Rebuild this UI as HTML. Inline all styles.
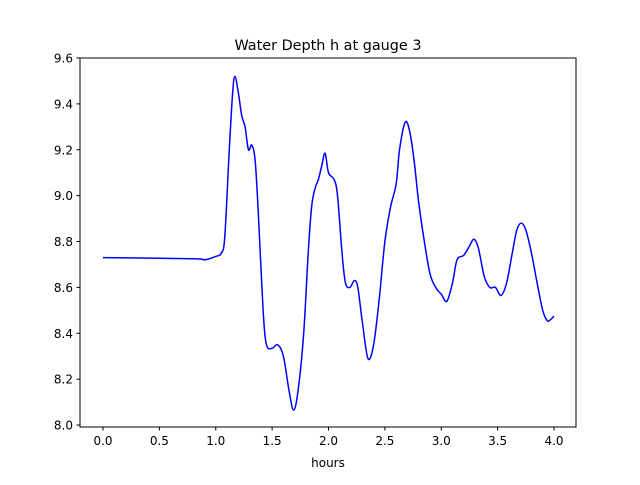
<!DOCTYPE html>
<html><head><meta charset="utf-8"><style>
body{margin:0;background:#fff}
svg text{font-family:"DejaVu Sans","Liberation Sans",sans-serif;}
</style></head><body>
<svg id="chart" width="640" height="480" xmlns="http://www.w3.org/2000/svg">
<rect width="640" height="480" fill="#fff"/>
<text x="328" y="50" font-size="14.4" text-anchor="middle">Water Depth h at gauge 3</text>
<g id="xticks"></g>
<g id="yticks"></g>
<path id="line" fill="none" stroke="#0000ff" stroke-width="1.5"/>
<rect x="80" y="58" width="496" height="369" fill="none" stroke="#000" stroke-width="1"/>
<text x="328" y="467" font-size="12" text-anchor="middle">hours</text>
</svg>
<script>
const hours=[0,0.8,0.9,1.0,1.05,1.08,1.12,1.15,1.17,1.2,1.23,1.26,1.29,1.32,1.35,1.38,1.42,1.45,1.5,1.55,1.6,1.65,1.69,1.73,1.78,1.82,1.85,1.88,1.91,1.94,1.97,2.0,2.05,2.08,2.12,2.15,2.19,2.23,2.26,2.3,2.35,2.4,2.45,2.5,2.55,2.6,2.63,2.68,2.72,2.76,2.8,2.85,2.9,2.95,3.0,3.05,3.1,3.14,3.2,3.25,3.29,3.33,3.38,3.43,3.48,3.53,3.58,3.63,3.67,3.71,3.75,3.8,3.85,3.9,3.94,3.97,4.0];
const depth=[8.73,8.725,8.72,8.735,8.75,8.82,9.2,9.45,9.52,9.45,9.35,9.3,9.2,9.22,9.15,8.9,8.5,8.35,8.335,8.35,8.3,8.15,8.065,8.15,8.4,8.75,8.95,9.03,9.07,9.13,9.185,9.1,9.07,9.0,8.75,8.62,8.6,8.63,8.6,8.45,8.29,8.35,8.55,8.8,8.95,9.05,9.2,9.32,9.28,9.15,8.97,8.8,8.66,8.6,8.57,8.54,8.62,8.72,8.74,8.78,8.81,8.77,8.65,8.6,8.6,8.565,8.62,8.75,8.85,8.88,8.85,8.75,8.62,8.5,8.455,8.46,8.475];
const xTicks=[0,0.5,1,1.5,2,2.5,3,3.5,4];
const xTickLabels=["0.0","0.5","1.0","1.5","2.0","2.5","3.0","3.5","4.0"];
const yTicks=[8.0,8.2,8.4,8.6,8.8,9.0,9.2,9.4,9.6];
const yTickLabels=["8.0","8.2","8.4","8.6","8.8","9.0","9.2","9.4","9.6"];
const NS="http://www.w3.org/2000/svg";
const xs=v=>103+v*112.75, ys=v=>58+(9.6-v)*229.4;
const xg=document.getElementById('xticks'), yg=document.getElementById('yticks');
xTicks.forEach((t,i)=>{
 const l=document.createElementNS(NS,'line');
 l.setAttribute('x1',xs(t));l.setAttribute('x2',xs(t));l.setAttribute('y1',427);l.setAttribute('y2',430.5);l.setAttribute('stroke','#000');
 
 
 xg.appendChild(l);
 const tx=document.createElementNS(NS,'text');
 tx.setAttribute('x',xs(t));tx.setAttribute('y',445);tx.setAttribute('font-size','12');tx.setAttribute('text-anchor','middle');
 tx.textContent=xTickLabels[i];
 
 
 xg.appendChild(tx);
});
yTicks.forEach((t,i)=>{
 const l=document.createElementNS(NS,'line');
 l.setAttribute('x1',76.5);l.setAttribute('x2',80);l.setAttribute('y1',ys(t));l.setAttribute('y2',ys(t));l.setAttribute('stroke','#000');
 
 
 yg.appendChild(l);
 const tx=document.createElementNS(NS,'text');
 tx.setAttribute('x',73);tx.setAttribute('y',ys(t)+4.5);tx.setAttribute('font-size','12');tx.setAttribute('text-anchor','end');
 tx.textContent=yTickLabels[i];
 
 
 yg.appendChild(tx);
});
const P=hours.map((h,i)=>[xs(h),ys(depth[i])]);
let d='M'+P[0][0]+','+P[0][1];
for(let i=0;i<P.length-1;i++){
 const p0=P[Math.max(0,i-1)],p1=P[i],p2=P[i+1],p3=P[Math.min(P.length-1,i+2)];
 const c1=[p1[0]+(p2[0]-p0[0])/6,p1[1]+(p2[1]-p0[1])/6];
 const c2=[p2[0]-(p3[0]-p1[0])/6,p2[1]-(p3[1]-p1[1])/6];
 d+=' C'+c1[0]+','+c1[1]+' '+c2[0]+','+c2[1]+' '+p2[0]+','+p2[1];
}
document.getElementById('line').setAttribute('d',d);
</script>
</body></html>
